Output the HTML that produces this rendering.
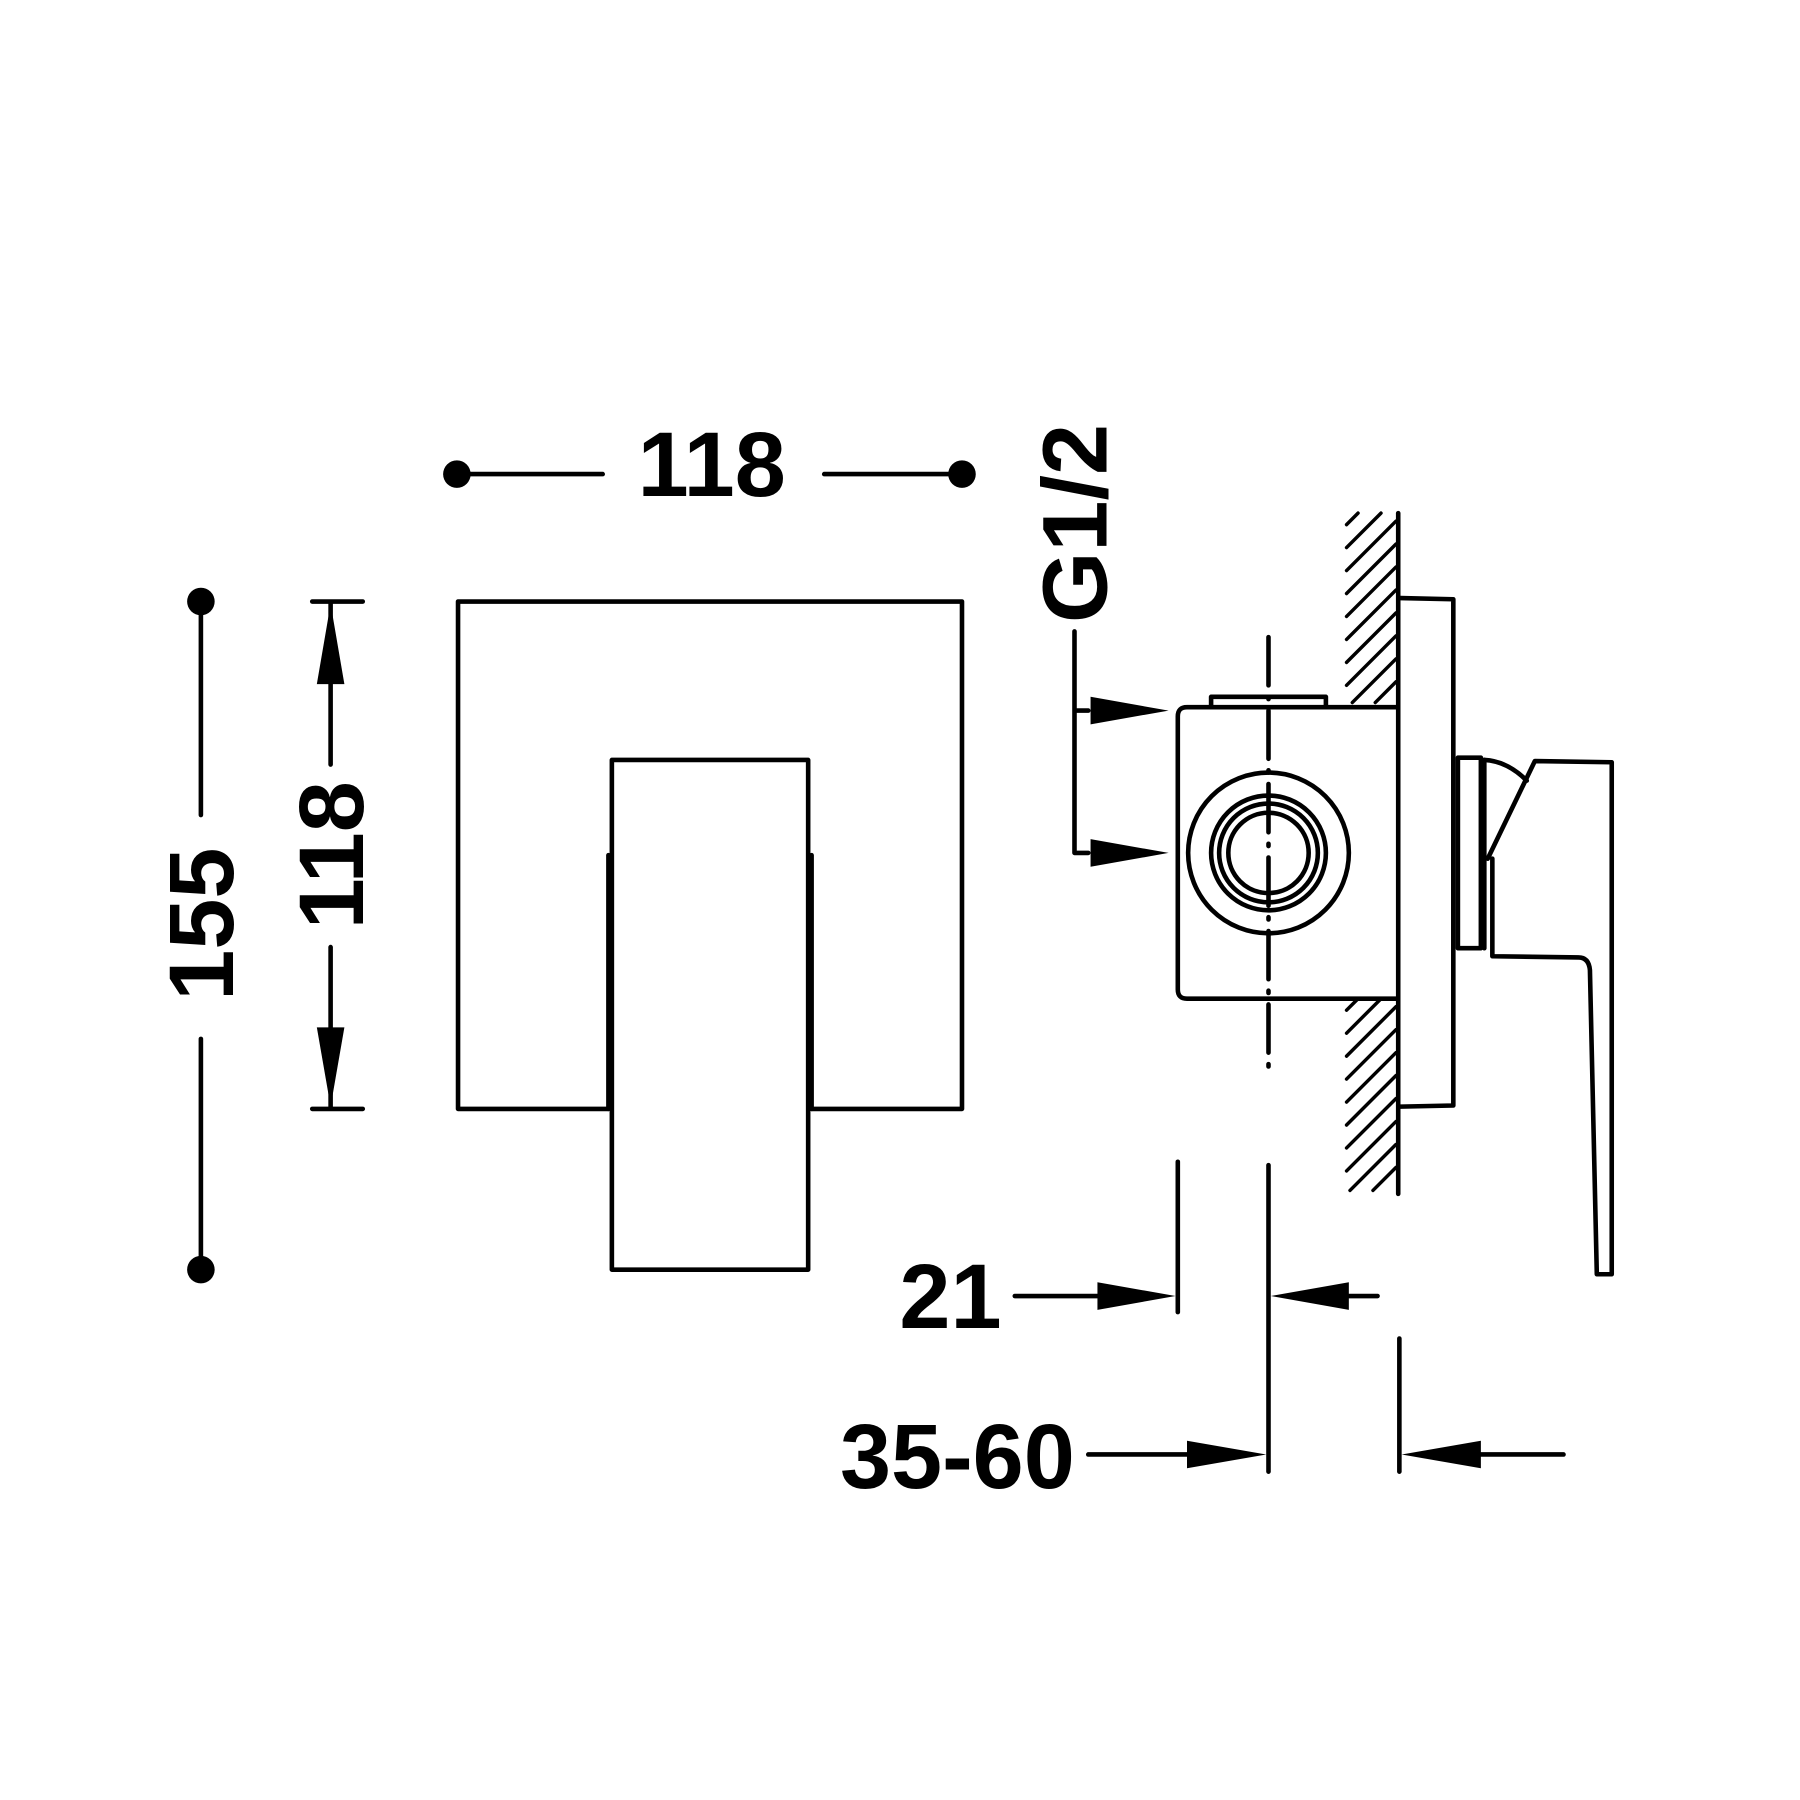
<!DOCTYPE html>
<html><head><meta charset="utf-8"><style>
html,body{margin:0;padding:0;background:#fff;}
svg{display:block}
text{font-family:"Liberation Sans",Arial,sans-serif;font-weight:bold;font-size:80px;fill:#000}
</style></head><body>
<svg width="1800" height="1800" viewBox="0 0 1568 1568" xmlns="http://www.w3.org/2000/svg">
<g stroke="#000" stroke-width="4" fill="none" stroke-linecap="round" stroke-linejoin="round">
<line x1="398" y1="413" x2="525" y2="413"/>
<line x1="718" y1="413" x2="838" y2="413"/>
<line x1="175" y1="524" x2="175" y2="710"/>
<line x1="175" y1="905" x2="175" y2="1106"/>
<line x1="272" y1="524" x2="316" y2="524"/>
<line x1="272" y1="966" x2="316" y2="966"/>
<line x1="288" y1="526" x2="288" y2="666"/>
<line x1="288" y1="825" x2="288" y2="964"/>
<path d="M399,966 V524 H838 V966 H707 M530,966 H399"/>
<path d="M533,662 H704 V1106 H533 Z"/>
<line x1="530" y1="745" x2="530" y2="966"/>
<line x1="707" y1="745" x2="707" y2="966"/>
<path d="M936,550 V743 H948 M936,619 H948"/>
<path d="M1216,616 H1034 Q1026,616 1026,624 V862 Q1026,870 1034,870 H1216"/>
<path d="M1055,616 V607 H1155 V616"/>
<circle cx="1105" cy="743" r="70"/>
<circle cx="1105" cy="743" r="50"/>
<circle cx="1105" cy="743" r="43"/>
<circle cx="1105" cy="743" r="35"/>
<line x1="1105" y1="555" x2="1105" y2="930" stroke-dasharray="42 10 2 10"/>
<line x1="1218" y1="447" x2="1218" y2="1040"/>
<g stroke-width="3">
<line x1="1173" y1="457" x2="1183" y2="447"/>
<line x1="1173" y1="477" x2="1203" y2="447"/>
<line x1="1173" y1="497" x2="1216" y2="454"/>
<line x1="1173" y1="517" x2="1216" y2="474"/>
<line x1="1173" y1="537" x2="1216" y2="494"/>
<line x1="1173" y1="557" x2="1216" y2="514"/>
<line x1="1173" y1="577" x2="1216" y2="534"/>
<line x1="1173" y1="597" x2="1216" y2="554"/>
<line x1="1178" y1="612" x2="1216" y2="574"/>
<line x1="1198" y1="612" x2="1216" y2="594"/>
<line x1="1173" y1="880" x2="1183" y2="870"/>
<line x1="1173" y1="900" x2="1203" y2="870"/>
<line x1="1173" y1="920" x2="1216" y2="877"/>
<line x1="1173" y1="940" x2="1216" y2="897"/>
<line x1="1173" y1="960" x2="1216" y2="917"/>
<line x1="1173" y1="980" x2="1216" y2="937"/>
<line x1="1173" y1="1000" x2="1216" y2="957"/>
<line x1="1173" y1="1020" x2="1216" y2="977"/>
<line x1="1176" y1="1037" x2="1216" y2="997"/>
<line x1="1196" y1="1037" x2="1216" y2="1017"/>
</g>
<path d="M1220,521 L1266,522 V963 L1220,964"/>
<rect x="1270" y="660" width="20" height="166"/>
<path d="M1293,662 V826"/>
<path d="M1293,662 Q1313,663 1330,680"/>
<path d="M1296,748 L1337,663 L1404,664 V1110 H1391 L1385,845 Q1384,834 1375,834 L1300,833 V748"/>
<line x1="1026" y1="1012" x2="1026" y2="1143"/>
<line x1="884" y1="1129" x2="958" y2="1129"/>
<line x1="1105" y1="1015" x2="1105" y2="1282"/>
<line x1="1173" y1="1129" x2="1200" y2="1129"/>
<line x1="948" y1="1267" x2="1036" y2="1267"/>
<line x1="1219" y1="1166" x2="1219" y2="1282"/>
<line x1="1288" y1="1267" x2="1362" y2="1267"/>
</g>
<g fill="#000">
<circle cx="398" cy="413" r="12"/><circle cx="838" cy="413" r="12"/>
<circle cx="175" cy="524" r="12"/><circle cx="175" cy="1106" r="12"/>
<polygon points="288,526 276,596 300,596"/>
<polygon points="288,964 276,895 300,895"/>
<polygon points="1018,619 950,607 950,631"/>
<polygon points="1018,743 950,731 950,755"/>
<polygon points="1024,1129 956,1117 956,1141"/>
<polygon points="1107,1129 1175,1117 1175,1141"/>
<polygon points="1103,1267 1034,1255 1034,1279"/>
<polygon points="1221,1267 1290,1255 1290,1279"/>
</g>
<text x="620" y="432" text-anchor="middle">118</text>
<text transform="translate(203,805) rotate(-90)" text-anchor="middle">155</text>
<text transform="translate(316,745) rotate(-90)" text-anchor="middle">118</text>
<text transform="translate(964,456) rotate(-90)" text-anchor="middle">G1/2</text>
<text x="828" y="1157" text-anchor="middle">21</text>
<text x="834" y="1296" text-anchor="middle">35-60</text>
</svg>
</body></html>
